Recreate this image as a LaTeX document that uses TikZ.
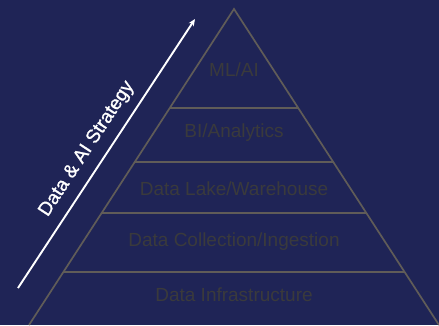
\documentclass[tikz,border=0pt]{standalone}
\usepackage{fontspec}
\setmainfont{Liberation Sans}
\newfontfamily\stratfont{Liberation Sans}[FakeBold=1.2]
\usetikzlibrary{arrows.meta,calc}
\definecolor{bgnavy}{RGB}{31,36,86}
\definecolor{layertext}{RGB}{58,58,60}
\definecolor{layerline}{RGB}{96,92,88}
\tikzset{
  layerlabel/.style={text=layertext,font=\fontsize{19}{22}\selectfont,inner sep=0pt,anchor=center},
  layeredge/.style={draw=layerline,line width=1.7pt},
  strategyarrow/.style={draw=white,line width=1.9pt,-{Stealth[length=7pt,width=6pt]}},
  strategylabel/.style={text=white,font=\stratfont\fontsize{19}{22}\selectfont,inner sep=0pt}
}
\begin{document}
\begin{tikzpicture}[x=1pt,y=-1pt]
\fill[bgnavy] (0,0) rectangle (439,325);
\useasboundingbox (0,0) rectangle (439,325);
% pyramid outline
\coordinate (apex) at (234,9);
\coordinate (bl) at (29,325);
\coordinate (br) at (439,325);
\draw[layeredge,line join=miter] (bl) -- (apex) -- (br);
% level lines
\foreach \yy/\nm in {108.3/a,161.7/b,213.3/c,271.7/d}{
  \pgfmathsetmacro{\hw}{(\yy-9)/316*205}
  \coordinate (\nm L) at ({234-\hw},\yy);
  \coordinate (\nm R) at ({234+\hw},\yy);
  \draw[layeredge] (\nm L) -- (\nm R);
}
\node[layerlabel] (mlai) at (234,70) {ML/AI};
\node[layerlabel] (bi) at (234,133) {BI/Analytics};
\node[layerlabel] (lake) at (234,188.5) {Data Lake/Warehouse};
\node[layerlabel] (coll) at (234,241.5) {Data Collection/Ingestion};
\node[layerlabel] (infra) at (234,294.5) {Data Infrastructure};
% strategy arrow
\coordinate (arrS) at (18,288);
\coordinate (arrE) at (195,19);
\draw[strategyarrow] (arrS) -- (arrE);
\node[strategylabel,rotate=56.7] (strat) at (87,149) {Data \& AI Strategy};
\end{tikzpicture}
\end{document}
